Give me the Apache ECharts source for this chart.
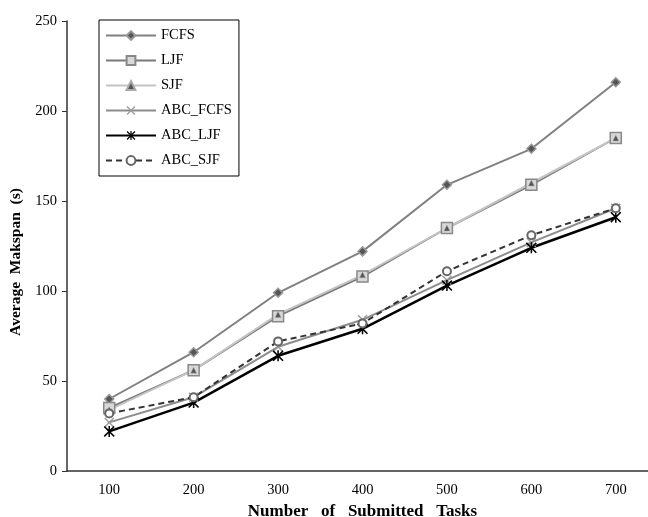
<!DOCTYPE html>
<html>
<head>
<meta charset="utf-8">
<script src="https://cdn.jsdelivr.net/npm/echarts@6/dist/echarts.min.js"></script>
<style>
  html, body { margin: 0; padding: 0; background: #fff; }
  #chart { width: 648px; height: 517px; }
</style>
</head>
<body>
<div id="chart"></div>
<script>
// data
const tasks = ['100', '200', '300', '400', '500', '600', '700'];
const fcfs = [40, 66, 99, 122, 159, 179, 216];
const ljf = [35, 56, 86, 108, 135, 159, 185];
const sjf = [34, 56, 87, 109, 135, 160, 185];
const abcFcfs = [27, 41, 69, 84, 106, 127, 146];
const abcLjf = [22, 38, 64, 79, 103, 124, 141];
const abcSjf = [32, 41, 72, 82, 111, 131, 146];

const serif = '"Liberation Serif", "DejaVu Serif", serif';
const crossPath = 'path://M0,1L1,0L5,4L9,0L10,1L6,5L10,9L9,10L5,6L1,10L0,9L4,5Z';
const starPath = 'path://M0,1L1,0L5,4L9,0L10,1L6,5L10,9L9,10L5,6L1,10L0,9L4,5Z M4.3,0L5.7,0L5.7,10L4.3,10Z';

const chart = echarts.init(document.getElementById('chart'));

const mk = (name, data, line, sym) => ({
  name: name,
  type: 'line',
  data: data,
  symbol: sym.symbol,
  symbolSize: sym.size,
  showAllSymbol: true,
  lineStyle: line,
  itemStyle: sym.style,
  emphasis: { disabled: true },
  animation: false
});

const option = {
  backgroundColor: '#fff',
  grid: { left: 67, right: -10, top: 21, bottom: 46, containLabel: false, outerBoundsMode: 'none' },
  legend: {
    orient: 'vertical',
    left: 99,
    top: 20,
    itemWidth: 50,
    itemHeight: 11,
    itemGap: 10,
    padding: [8, 7, 8, 6],
    borderColor: '#000',
    borderWidth: 1,
    textStyle: { fontFamily: serif, fontSize: 14.5, color: '#000' },
    data: ['FCFS', 'LJF', 'SJF', 'ABC_FCFS', 'ABC_LJF', 'ABC_SJF']
  },
  xAxis: {
    type: 'category',
    data: tasks,
    boundaryGap: true,
    name: 'Number   of   Submitted   Tasks',
    nameLocation: 'middle',
    nameGap: 30,
    nameTextStyle: { fontFamily: serif, fontSize: 17, fontWeight: 'bold', color: '#000' },
    axisLine: { lineStyle: { color: '#333', width: 1.5 } },
    axisTick: { length: 5, lineStyle: { color: '#333' } },
    axisLabel: { fontFamily: serif, fontSize: 14.5, color: '#000', margin: 12 },
    splitLine: { show: false }
  },
  yAxis: {
    type: 'value',
    min: 0,
    max: 250,
    interval: 50,
    name: 'Average  Makspan  (s)',
    nameLocation: 'middle',
    nameGap: 33,
    nameTextStyle: { fontFamily: serif, fontSize: 15.5, fontWeight: 'bold', color: '#000', padding: [0, 32, 0, 0] },
    axisLine: { show: true, lineStyle: { color: '#333', width: 1.5 } },
    axisTick: { show: true, length: 5, lineStyle: { color: '#333' } },
    axisLabel: { fontFamily: serif, fontSize: 14.5, color: '#000', margin: 10 },
    splitLine: { show: false }
  },
  series: [
    mk('FCFS', fcfs, { color: '#808080', width: 2 },
      { symbol: 'diamond', size: 9, style: { color: '#555', borderColor: '#999', borderWidth: 1.5 } }),
    mk('LJF', ljf, { color: '#7a7a7a', width: 2 },
      { symbol: 'rect', size: 11, style: { color: '#d8d8d8', borderColor: '#888', borderWidth: 1.5 } }),
    mk('SJF', sjf, { color: '#c4c4c4', width: 2 },
      { symbol: 'triangle', size: 6, style: { color: '#555', borderColor: '#aaa', borderWidth: 0.5 } }),
    mk('ABC_FCFS', abcFcfs, { color: '#8c8c8c', width: 2 },
      { symbol: crossPath, size: 10, style: { color: '#999' } }),
    mk('ABC_LJF', abcLjf, { color: '#000', width: 2.5 },
      { symbol: starPath, size: 11, style: { color: '#000' } }),
    mk('ABC_SJF', abcSjf, { color: '#333', width: 2, type: [6, 4] },
      { symbol: 'emptyCircle', size: 8, style: { color: '#666', borderColor: '#666', borderWidth: 1.5 } })
  ]
};

chart.setOption(option);
window.onresize = function () {
  chart.resize();
};
</script>
</body>
</html>
